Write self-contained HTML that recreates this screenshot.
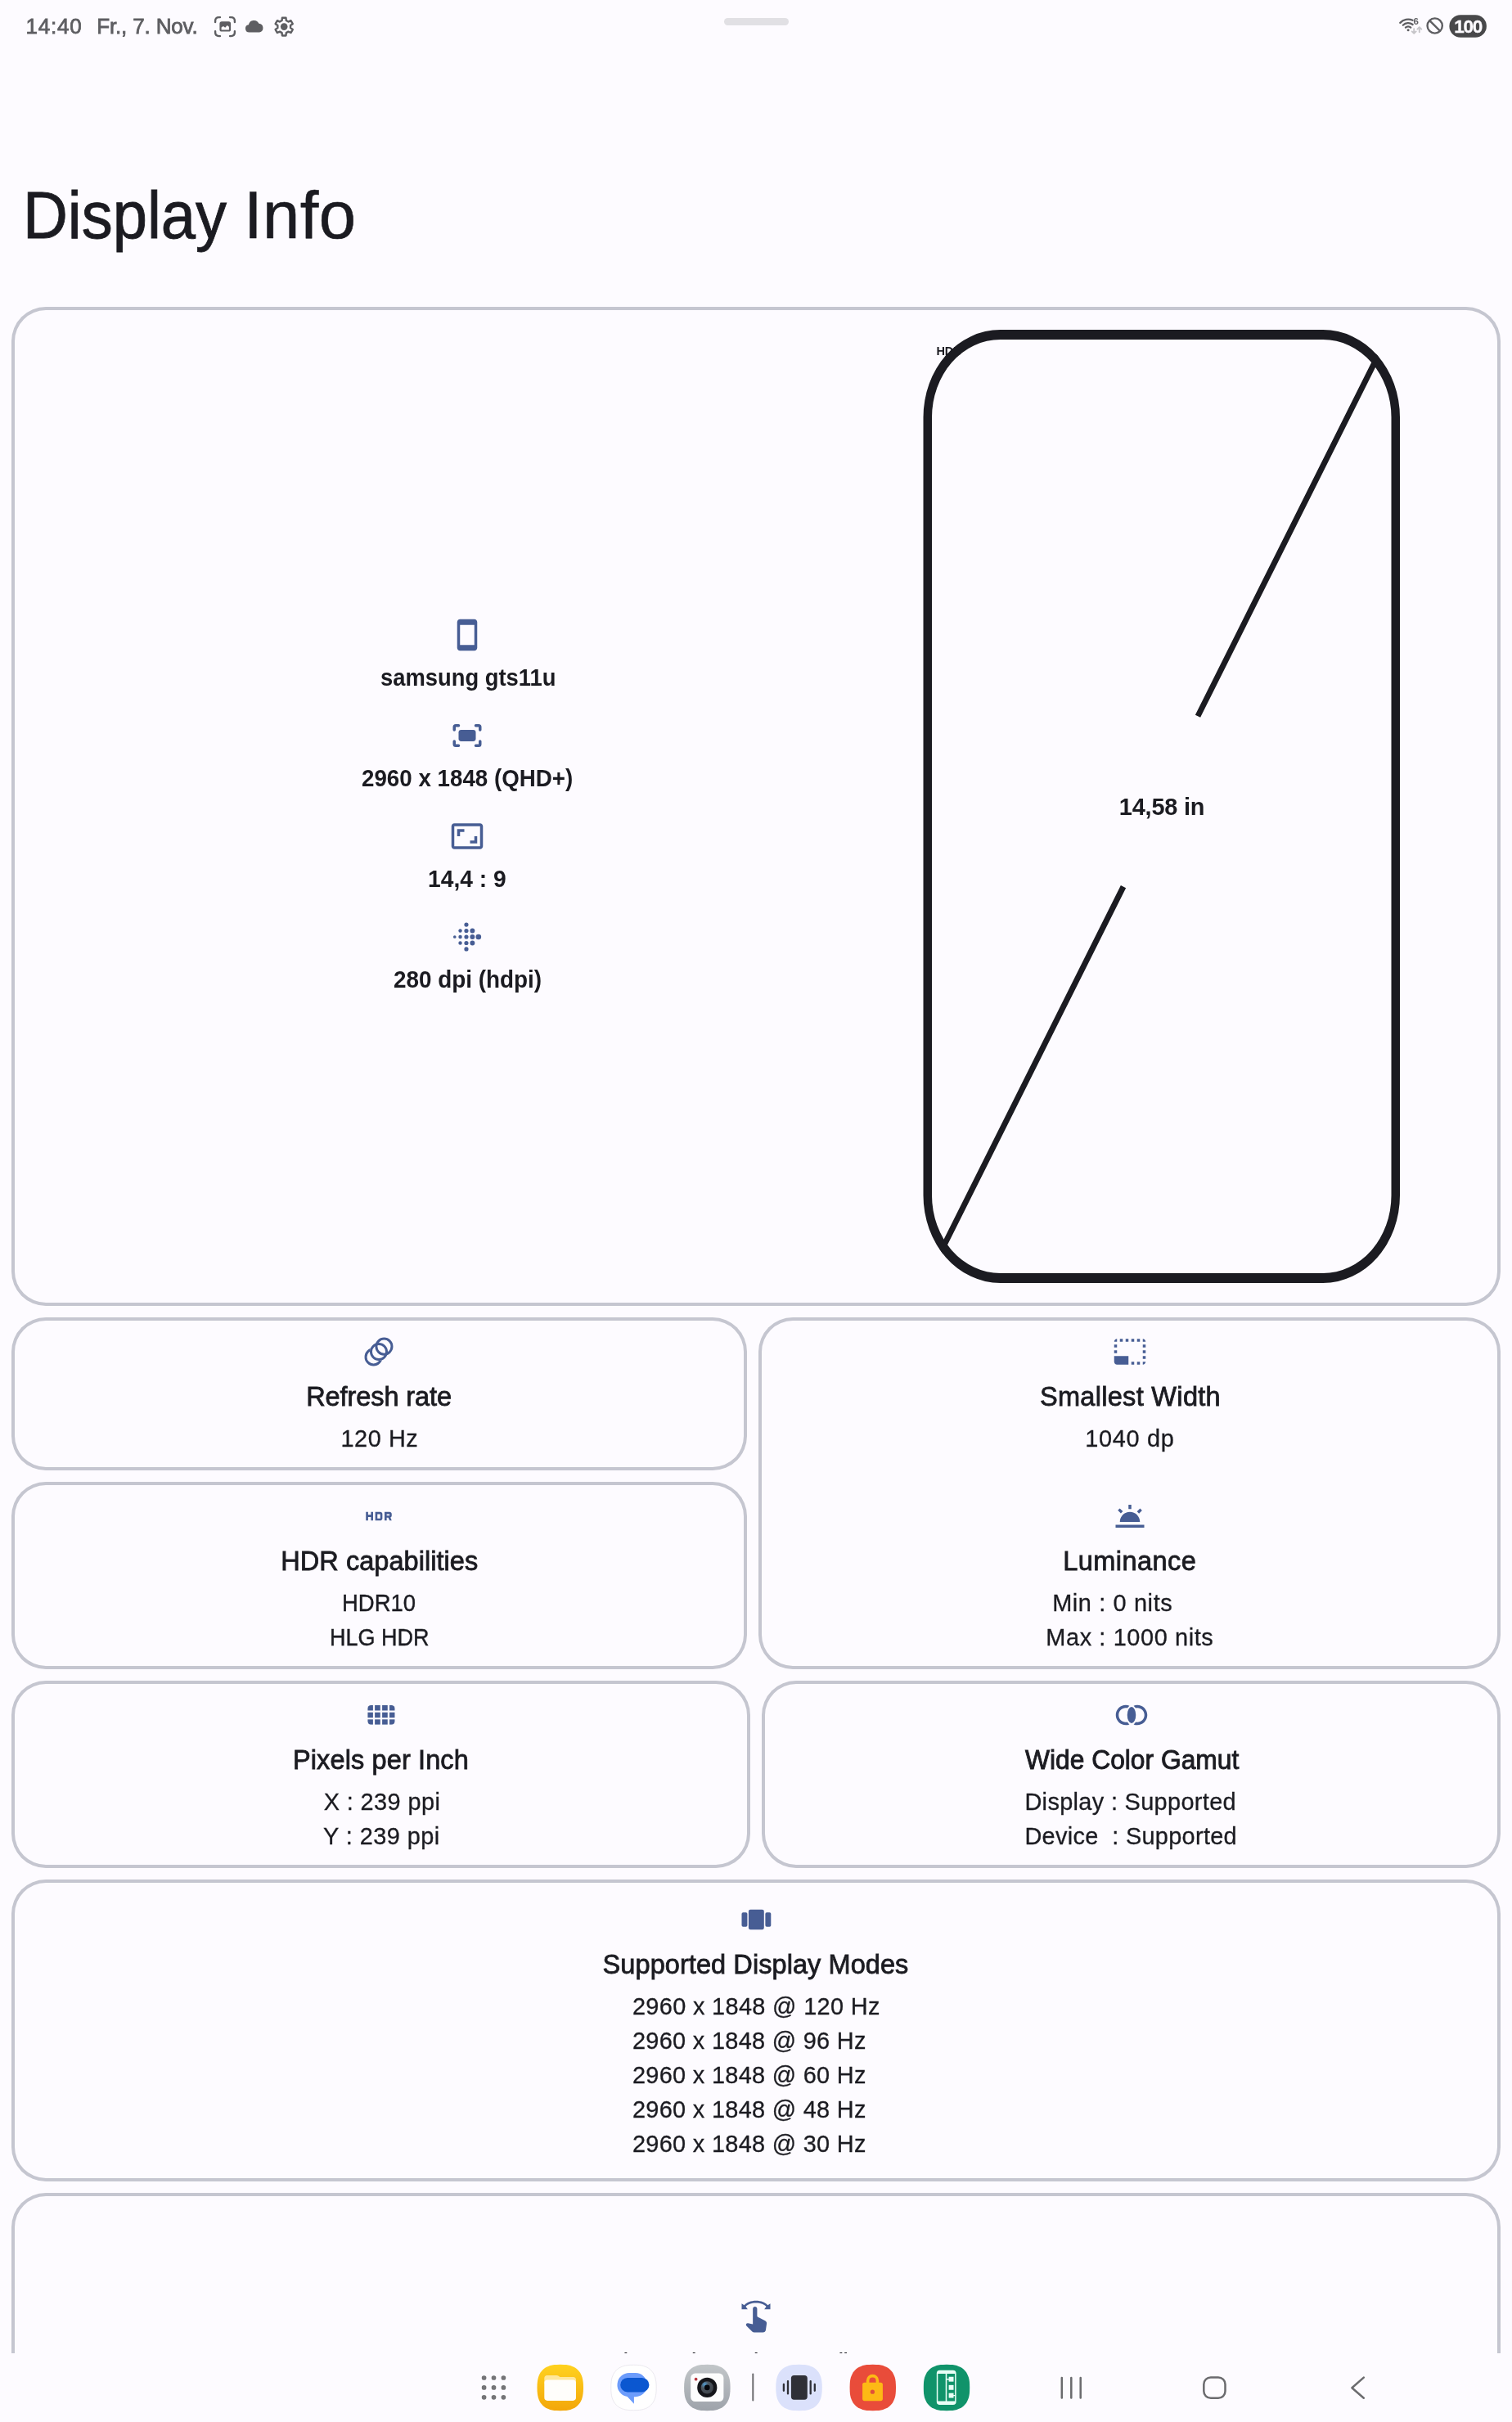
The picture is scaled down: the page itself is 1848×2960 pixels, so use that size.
<!DOCTYPE html>
<html lang="de"><head><meta charset="utf-8"><title>Display Info</title>
<style>html,body{margin:0;padding:0}
body{width:1848px;height:2960px;position:relative;overflow:hidden;background:#fdfbff;color:#1b1b21;font-family:"Liberation Sans",sans-serif}
.t{position:absolute;white-space:pre;margin:0}
.card{position:absolute;box-sizing:border-box;border-radius:42px;background:#fdfbff;box-shadow:inset 0 0 0 4px #c5c6d0}
.ic{position:absolute;display:block;overflow:visible}
.abs{position:absolute}
#root{position:absolute;left:0;top:0;width:1848px;height:2960px;overflow:hidden;will-change:transform}
#content{position:absolute;left:0;top:0;width:1848px;height:2876px;overflow:hidden}
#taskbar{position:absolute;left:0;top:2876px;width:1848px;height:84px;background:#fdfbff}
</style></head><body>
<div id="root">
<main id="content">
<div class="abs" style="left:884.5px;top:21.8px;width:79px;height:9.2px;border-radius:5px;background:#e1e0e4"></div>
<div class="card" style="left:14px;top:375px;width:1820px;height:1221px;"></div>
<div class="card" style="left:14px;top:1610px;width:899px;height:187px;"></div>
<div class="card" style="left:14px;top:1811px;width:899px;height:229px;"></div>
<div class="card" style="left:927px;top:1610px;width:907px;height:430px;"></div>
<div class="card" style="left:14px;top:2054px;width:903px;height:229px;"></div>
<div class="card" style="left:931px;top:2054px;width:903px;height:229px;"></div>
<div class="card" style="left:14px;top:2297px;width:1820px;height:369px;"></div>
<div class="card" style="left:14px;top:2680px;width:1820px;height:420px;"></div>
<div class="t" style="left:1144.4px;top:422px;font-size:14.5px;line-height:14.5px;font-weight:700">HDR</div>
<svg class="abs" id="screen" style="left:1120px;top:395px" width="600" height="1182" viewBox="1120 395 600 1182"><defs><clipPath id="scr"><path d="M1222.5 403H1617A94 107 0 0 1 1711 510V1461A94 107 0 0 1 1617 1568H1222.5A94 107 0 0 1 1128.5 1461V510A94 107 0 0 1 1222.5 403Z"/></clipPath></defs><path d="M1222.5 415H1617A83.5 95 0 0 1 1700.5 510V1461A83.5 95 0 0 1 1617 1556H1222.5A83.5 95 0 0 1 1139 1461V510A83.5 95 0 0 1 1222.5 415Z" fill="#fdfbff"/><g clip-path="url(#scr)"><path d="M1133 1563.600L1373 1083.600M1464 875.200L1704 395.200" stroke="#1b1b21" stroke-width="7" fill="none"/></g><path d="M1222.5 403H1617A94 107 0 0 1 1711 510V1461A94 107 0 0 1 1617 1568H1222.5A94 107 0 0 1 1128.5 1461V510A94 107 0 0 1 1222.5 403ZM1222.5 415H1617A83.5 95 0 0 1 1700.5 510V1461A83.5 95 0 0 1 1617 1556H1222.5A83.5 95 0 0 1 1139 1461V510A83.5 95 0 0 1 1222.5 415Z" fill="#1b1b21" fill-rule="evenodd"/></svg>
<svg class="ic" style="left:550px;top:754.75px" width="42" height="42" viewBox="0 0 24 24" fill="#475d94"><path d="M17 1.01L7 1c-1.1 0-2 .9-2 2v18c0 1.1.9 2 2 2h10c1.1 0 2-.9 2-2V3c0-1.1-.9-1.99-2-1.99zM17 19H7V5h10v14z"/></svg>
<svg class="ic" style="left:550px;top:878px" width="42" height="42" viewBox="0 0 24 24" fill="#475d94"><path d="M3 8V6q0-1 1-1h2M18 5h2q1 0 1 1v2M3 16v2q0 1 1 1h2M21 16v2q0 1-1 1h-2" fill="none" stroke="#475d94" stroke-width="2" stroke-linecap="round"/><rect x="6" y="8" width="12" height="8" rx="1.800"/></svg>
<svg class="ic" style="left:550px;top:1001.1px" width="42" height="42" viewBox="0 0 24 24" fill="#475d94"><path d="M19 12h-2v3h-3v2h5v-5zM7 9h3V7H5v5h2V9zm14-6H3c-1.1 0-2 .9-2 2v14c0 1.1.9 2 2 2h18c1.1 0 2-.9 2-2V5c0-1.1-.9-2-2-2zm0 16.01H3V4.99h18v14.02z"/></svg>
<svg class="ic" style="left:550px;top:1123.9px" width="42" height="42" viewBox="0 0 24 24" fill="#475d94"><circle cx="19.89" cy="12" r="1.89"/><circle cx="15.65" cy="12" r="1.68"/><circle cx="15.65" cy="7.74" r="1.68"/><circle cx="15.65" cy="16.25" r="1.68"/><circle cx="11.41" cy="12" r="1.47"/><circle cx="11.41" cy="7.74" r="1.47"/><circle cx="11.41" cy="16.26" r="1.47"/><circle cx="11.41" cy="20.53" r="1.47"/><circle cx="11.41" cy="3.47" r="1.47"/><circle cx="7.16" cy="12" r="1.26"/><circle cx="7.16" cy="16.25" r="1.26"/><circle cx="7.16" cy="7.75" r="1.26"/><circle cx="3.29" cy="12" r="1.05"/></svg>
<svg class="ic" style="left:442.3px;top:1631px" width="42" height="42" viewBox="0 0 24 24" fill="#475d94"><defs><mask id="anB" maskUnits="userSpaceOnUse" x="0" y="0" width="24" height="24"><rect width="24" height="24" fill="#fff"/><circle cx="12" cy="12" r="6.300" fill="#000"/></mask></defs><g fill="none" stroke="#475d94" stroke-width="1.700"><circle cx="15.680" cy="8.350" r="5.450"/><circle cx="12" cy="12" r="5.450"/><circle cx="8.320" cy="15.650" r="5.450" mask="url(#anB)"/></g></svg>
<svg class="ic" style="left:442.1px;top:1832.2px" width="42" height="42" viewBox="0 0 24 24" fill="#475d94"><path d="M21 11.5v-1c0-.8-.7-1.5-1.5-1.5H16v6h1.5v-2h1.1l.9 2H21l-.9-2.1c.5-.3.9-.8.9-1.4zm-1.5 0h-2v-1h2v1zm-13-.5h-2V9H3v6h1.5v-2.5h2V15H8V9H6.500v2zM13 9H9.5v6H13c.8 0 1.5-.7 1.5-1.5v-3c0-.8-.7-1.5-1.5-1.5zm0 4.500h-2v-3h2v3z"/></svg>
<svg class="ic" style="left:1359.6px;top:1631px" width="42" height="42" viewBox="0 0 24 24" fill="#475d94"><path d="M23 15h-2v2h2v-2zm0-4h-2v2h2v-2zm0 8h-2v2c1 0 2-1 2-2zM15 3h-2v2h2V3zm8 4h-2v2h2V7zm-2-4v2h2c0-1-1-2-2-2zM3 21h8v-6H1v4c0 1.1.9 2 2 2zM3 7H1v2h2V7zm12 12h-2v2h2v-2zm4-16h-2v2h2V3zm0 16h-2v2h2v-2zM3 3C2 3 1 4 1 5h2V3zm0 8H1v2h2v-2zm8-8H9v2h2V3zM7 3H5v2h2V3z"/></svg>
<svg class="ic" style="left:1359.8px;top:1832px" width="42" height="42" viewBox="0 0 24 24" fill="#475d94"><path d="M16.955 8.662l2.12-2.122 1.416 1.414-2.121 2.122zM2 18h20v2H2zM11 4h2v3h-2zM3.543 7.925L4.956 6.51l2.122 2.12-1.412 1.415zM5 16h14c0-3.87-3.13-7-7-7s-7 3.13-7 7z"/></svg>
<svg class="ic" style="left:444.05px;top:2075px" width="42" height="42" viewBox="0 0 24 24" fill="#475d94"><defs><clipPath id="vc"><rect x="3" y="5.150" width="19.100" height="13.600" rx="2.400"/></clipPath></defs><g clip-path="url(#vc)"><rect x="3" y="5.15" width="3.800" height="3.700"/><rect x="8.07" y="5.15" width="3.800" height="3.700"/><rect x="13.2" y="5.15" width="3.800" height="3.700"/><rect x="18.3" y="5.15" width="3.800" height="3.700"/><rect x="3" y="10.15" width="3.800" height="3.700"/><rect x="8.07" y="10.15" width="3.800" height="3.700"/><rect x="13.2" y="10.15" width="3.800" height="3.700"/><rect x="18.3" y="10.15" width="3.800" height="3.700"/><rect x="3" y="15.05" width="3.800" height="3.700"/><rect x="8.07" y="15.05" width="3.800" height="3.700"/><rect x="13.2" y="15.05" width="3.800" height="3.700"/><rect x="18.3" y="15.05" width="3.800" height="3.700"/></g></svg>
<svg class="ic" style="left:1362px;top:2075px" width="42" height="42" viewBox="0 0 24 24" fill="#475d94"><ellipse cx="12" cy="12" rx="3" ry="5.74"/><path d="M9.04 16.87C8.71 16.95 8.36 17 8 17c-2.760 0-5-2.240-5-5s2.240-5 5-5c.36 0 .71.050 1.040.130.390-.560.880-1.120 1.490-1.630C9.750 5.190 8.900 5 8 5c-3.860 0-7 3.140-7 7s3.140 7 7 7c.9 0 1.750-.190 2.530-.5-.61-.51-1.100-1.070-1.490-1.630z"/><path d="M16 5c-.9 0-1.750.190-2.530.5.610.510 1.100 1.070 1.490 1.630.33-.08.680-.130 1.040-.130 2.760 0 5 2.240 5 5s-2.240 5-5 5c-.360 0-.710-.050-1.040-.130-.390.560-.880 1.120-1.490 1.630.78.310 1.630.5 2.530.5 3.860 0 7-3.140 7-7s-3.140-7-7-7z"/></svg>
<svg class="ic" style="left:903.3px;top:2325px" width="42" height="42" viewBox="0 0 24 24" fill="#475d94"><rect x="2" y="7" width="3.950" height="10" rx="1"/><rect x="6.800" y="5.050" width="10.800" height="13.900" rx="1.300"/><rect x="18.500" y="7" width="3.950" height="10" rx="1"/></svg>
<svg class="ic" style="left:903px;top:2809.6px" width="42" height="42" viewBox="0 0 24 24" fill="#475d94"><path d="M20.200 4.100C18.600 2.250 15.550 1.050 12 1.050S5.400 2.250 3.800 4.100L2 3v4h4.200L4.850 5.150c1.200-1.500 3.850-2.600 7.150-2.600s5.950 1.100 7.150 2.600L17.800 7H22V3l-1.800 1.100z"/><path transform="translate(-0.2 -0.8)" d="M13 12.500v-5c0-.83-.67-1.500-1.500-1.500S10 6.670 10 7.500v10.740l-3.440-.72c-.37-.08-.76.040-1.030.31-.43.440-.43 1.140 0 1.580l4.010 4.010c.38.370.89.580 1.420.58h6.100c1 0 1.840-.73 1.980-1.720l.63-4.470c.12-.85-.32-1.690-1.090-2.070l-4.420-2.200c-.21-.090-.44-.140-.66-.140z"/></svg>
<div class="t" style="left:31.52px;top:19.00px;font-size:26.0px;line-height:26.0px;letter-spacing:0.754px;color:#5e5e62;-webkit-text-stroke:0.8px #5e5e62;">14:40</div>
<div class="t" style="left:118.17px;top:19.00px;font-size:26.0px;line-height:26.0px;letter-spacing:-0.147px;color:#5e5e62;-webkit-text-stroke:0.8px #5e5e62;">Fr., 7. Nov.</div>
<div class="t" style="left:28.07px;top:222.00px;font-size:81.4px;line-height:81.4px;transform:scaleX(0.9333);transform-origin:0 0;-webkit-text-stroke:0.8999999999999999px #1b1b21;">Display</div>
<div class="t" style="left:297.99px;top:222.00px;font-size:81.4px;line-height:81.4px;letter-spacing:0.422px;-webkit-text-stroke:0.6px #1b1b21;">Info</div>
<div class="t" style="left:464.64px;top:814.00px;font-size:28.9px;line-height:28.9px;transform:scaleX(0.9469);transform-origin:0 0;font-weight:700;">samsung gts11u</div>
<div class="t" style="left:441.64px;top:937.00px;font-size:28.9px;line-height:28.9px;transform:scaleX(0.9600);transform-origin:0 0;font-weight:700;">2960 x 1848 (QHD+)</div>
<div class="t" style="left:523.02px;top:1060.00px;font-size:28.9px;line-height:28.9px;transform:scaleX(0.9770);transform-origin:0 0;font-weight:700;">14,4 : 9</div>
<div class="t" style="left:481.13px;top:1183.00px;font-size:28.9px;line-height:28.9px;transform:scaleX(0.9646);transform-origin:0 0;font-weight:700;">280 dpi (hdpi)</div>
<div class="t" style="left:1367.78px;top:972.00px;font-size:28.9px;line-height:28.9px;letter-spacing:-0.184px;font-weight:700;">14,58 in</div>
<div class="t" style="left:374.23px;top:1691.00px;font-size:32.5px;line-height:32.5px;letter-spacing:-0.094px;-webkit-text-stroke:0.8px #1b1b21;">Refresh rate</div>
<div class="t" style="left:416.50px;top:1744.00px;font-size:28.9px;line-height:28.9px;letter-spacing:0.539px;-webkit-text-stroke:0.3px #1b1b21;">120 Hz</div>
<div class="t" style="left:343.33px;top:1892.00px;font-size:32.5px;line-height:32.5px;letter-spacing:0.040px;-webkit-text-stroke:0.8px #1b1b21;">HDR capabilities</div>
<div class="t" style="left:417.75px;top:1945.00px;font-size:28.9px;line-height:28.9px;transform:scaleX(0.9503);transform-origin:0 0;-webkit-text-stroke:0.4px #1b1b21;">HDR10</div>
<div class="t" style="left:402.59px;top:1987.00px;font-size:28.9px;line-height:28.9px;transform:scaleX(0.9341);transform-origin:0 0;-webkit-text-stroke:0.4px #1b1b21;">HLG HDR</div>
<div class="t" style="left:1270.92px;top:1691.00px;font-size:32.5px;line-height:32.5px;letter-spacing:0.312px;-webkit-text-stroke:0.8px #1b1b21;">Smallest Width</div>
<div class="t" style="left:1326.30px;top:1744.00px;font-size:28.9px;line-height:28.9px;letter-spacing:0.663px;-webkit-text-stroke:0.3px #1b1b21;">1040 dp</div>
<div class="t" style="left:1299.33px;top:1892.00px;font-size:32.5px;line-height:32.5px;letter-spacing:0.439px;-webkit-text-stroke:0.8px #1b1b21;">Luminance</div>
<div class="t" style="left:1286.13px;top:1945.00px;font-size:28.9px;line-height:28.9px;letter-spacing:0.630px;-webkit-text-stroke:0.3px #1b1b21;">Min : 0 nits</div>
<div class="t" style="left:1278.33px;top:1987.00px;font-size:28.9px;line-height:28.9px;letter-spacing:0.607px;-webkit-text-stroke:0.3px #1b1b21;">Max : 1000 nits</div>
<div class="t" style="left:357.93px;top:2135.00px;font-size:32.5px;line-height:32.5px;letter-spacing:0.123px;-webkit-text-stroke:0.8px #1b1b21;">Pixels per Inch</div>
<div class="t" style="left:395.65px;top:2188.00px;font-size:28.9px;line-height:28.9px;letter-spacing:0.406px;-webkit-text-stroke:0.3px #1b1b21;">X : 239 ppi</div>
<div class="t" style="left:395.06px;top:2230.00px;font-size:28.9px;line-height:28.9px;letter-spacing:0.446px;-webkit-text-stroke:0.3px #1b1b21;">Y : 239 ppi</div>
<div class="t" style="left:1252.66px;top:2135.00px;font-size:32.5px;line-height:32.5px;transform:scaleX(0.9774);transform-origin:0 0;-webkit-text-stroke:0.9px #1b1b21;">Wide Color Gamut</div>
<div class="t" style="left:1252.43px;top:2188.00px;font-size:28.9px;line-height:28.9px;letter-spacing:0.338px;-webkit-text-stroke:0.3px #1b1b21;">Display : Supported</div>
<div class="t" style="left:1252.43px;top:2230.00px;font-size:28.9px;line-height:28.9px;letter-spacing:0.305px;-webkit-text-stroke:0.3px #1b1b21;">Device &nbsp;: Supported</div>
<div class="t" style="left:736.62px;top:2385.00px;font-size:32.5px;line-height:32.5px;letter-spacing:0.072px;-webkit-text-stroke:0.8px #1b1b21;">Supported Display Modes</div>
<div class="t" style="left:772.95px;top:2438.00px;font-size:28.9px;line-height:28.9px;letter-spacing:0.343px;-webkit-text-stroke:0.3px #1b1b21;">2960 x 1848 @ 120 Hz</div>
<div class="t" style="left:772.95px;top:2480.00px;font-size:28.9px;line-height:28.9px;letter-spacing:0.310px;-webkit-text-stroke:0.3px #1b1b21;">2960 x 1848 @ 96 Hz</div>
<div class="t" style="left:772.95px;top:2522.00px;font-size:28.9px;line-height:28.9px;letter-spacing:0.310px;-webkit-text-stroke:0.3px #1b1b21;">2960 x 1848 @ 60 Hz</div>
<div class="t" style="left:772.95px;top:2564.00px;font-size:28.9px;line-height:28.9px;letter-spacing:0.310px;-webkit-text-stroke:0.3px #1b1b21;">2960 x 1848 @ 48 Hz</div>
<div class="t" style="left:772.95px;top:2606.00px;font-size:28.9px;line-height:28.9px;letter-spacing:0.310px;-webkit-text-stroke:0.3px #1b1b21;">2960 x 1848 @ 30 Hz</div>
<div class="t" style="left:718.33px;top:2872.00px;font-size:32.5px;line-height:32.5px;letter-spacing:-1.384px;">Estimated Touch Sampling Rate</div>
</main>
<svg class="abs" style="left:0;top:0" width="1848" height="64" viewBox="0 0 1848 64" fill="none"><g stroke="#5e5e62" stroke-width="2.4" stroke-linecap="round" fill="none"><path d="M263.1 27V25.6Q263.1 21.1 267.6 21.1H269"/><path d="M281 21.1H282.4Q286.9 21.1 286.9 25.6V27"/><path d="M263.1 38.2V39.6Q263.1 44.1 267.6 44.1H269"/><path d="M281 44.1H282.4Q286.9 44.1 286.9 39.6V38.2"/></g><rect x="268.4" y="26.3" width="13.7" height="12.3" rx="2.6" fill="#5e5e62"/><path d="M270.6 36.6V33.600l2.300-1.500 2.300 1.600 2.500-2.700 2.200 1.700v3.900z" fill="#fdfbff"/><path d="M304.600 39.400a4.600 4.600 0 0 1-.700-9.150 6.600 6.600 0 0 1 12.500-1.450 5.350 5.350 0 0 1 .700 10.600z" fill="#5e5e62"/><path d="M344.60 25.04L344.89 21.74L349.51 21.74L349.80 25.04L352.45 26.56L355.45 25.17L357.76 29.17L355.05 31.07L355.05 34.13L357.76 36.03L355.45 40.03L352.45 38.64L349.80 40.16L349.51 43.46L344.89 43.46L344.60 40.16L341.95 38.64L338.95 40.03L336.64 36.03L339.35 34.13L339.35 31.07L336.64 29.17L338.95 25.17L341.95 26.56Z" stroke="#5e5e62" stroke-width="2.4" stroke-linejoin="round"/><circle cx="347.2" cy="32.6" r="4.3" fill="#5e5e62"/><g stroke="#5e5e62" stroke-width="2.3" stroke-linecap="round" fill="none"><path d="M1711.30 27.86A13.4 13.4 0 0 1 1726.55 24.76"/><path d="M1714.81 30.71A8.9 8.9 0 0 1 1726.58 29.99"/><path d="M1717.96 33.64A4.6 4.6 0 0 1 1724.24 33.64"/></g><circle cx="1721.1" cy="36.7" r="1.5" fill="#5e5e62"/><text x="1727.400" y="29.800" font-family="Liberation Sans, sans-serif" font-weight="700" font-size="11.500" fill="#5e5e62">6</text><g stroke="#c6c5c9" stroke-width="1.9" stroke-linecap="round" stroke-linejoin="round" fill="none"><path d="M1728.200 35.200V40.700M1725.700 38.400L1728.200 40.900 1730.700 38.400"/><path d="M1734.800 39.200V33.500M1732.300 35.700L1734.800 33.200 1737.300 35.700"/></g><circle cx="1753.700" cy="31.500" r="9.150" stroke="#5e5e62" stroke-width="2.400"/><path d="M1747.300 25.100L1760.100 37.900" stroke="#5e5e62" stroke-width="2.400"/><rect x="1771.400" y="18.200" width="45.500" height="27.500" rx="13.750" fill="#48484a"/><text x="1794.100" y="39.700" text-anchor="middle" font-family="Liberation Sans, sans-serif" font-weight="700" font-size="22.500" letter-spacing="-1.300" fill="#fdfbff" stroke="#fdfbff" stroke-width="0.300">100</text></svg>
<nav id="taskbar"><svg class="abs" style="left:0;top:0" width="1848" height="84" viewBox="0 2876 1848 84" fill="none"><defs><linearGradient id="gy" x1="0" y1="0" x2="0" y2="1"><stop offset="0" stop-color="#ffd21f"/><stop offset="1" stop-color="#f3a70a"/></linearGradient><linearGradient id="gc" x1="0" y1="0" x2="0" y2="1"><stop offset="0" stop-color="#c2c6c9"/><stop offset="1" stop-color="#9ea3aa"/></linearGradient><radialGradient id="gl" cx="0.3" cy="0.25" r="0.9"><stop offset="0" stop-color="#4f9bd0"/><stop offset="0.35" stop-color="#4d565e"/><stop offset="1" stop-color="#3d4249"/></radialGradient></defs><circle cx="591.6" cy="2906" r="2.850" fill="#747477"/><circle cx="603.5" cy="2906" r="2.850" fill="#747477"/><circle cx="615.4" cy="2906" r="2.850" fill="#747477"/><circle cx="591.6" cy="2917.9" r="2.850" fill="#747477"/><circle cx="603.5" cy="2917.9" r="2.850" fill="#747477"/><circle cx="615.4" cy="2917.9" r="2.850" fill="#747477"/><circle cx="591.6" cy="2929.8" r="2.850" fill="#747477"/><circle cx="603.5" cy="2929.8" r="2.850" fill="#747477"/><circle cx="615.4" cy="2929.8" r="2.850" fill="#747477"/><path d="M713.0 2918.0L712.9 2922.3L712.6 2925.3L712.2 2928.0L711.6 2930.4L710.9 2932.5L710.0 2934.5L708.9 2936.4L707.7 2938.1L706.4 2939.6L704.8 2941.0L703.1 2942.2L701.3 2943.2L699.3 2944.1L697.1 2944.9L694.7 2945.5L692.1 2945.9L689.1 2946.1L684.8 2946.2L680.4 2946.1L677.4 2945.9L674.8 2945.5L672.4 2944.9L670.2 2944.1L668.2 2943.2L666.4 2942.2L664.7 2941.0L663.1 2939.6L661.8 2938.1L660.6 2936.4L659.5 2934.5L658.6 2932.5L657.9 2930.4L657.3 2928.0L656.9 2925.3L656.6 2922.3L656.5 2918.0L656.6 2913.7L656.9 2910.7L657.3 2908.0L657.9 2905.6L658.6 2903.5L659.5 2901.5L660.6 2899.6L661.8 2897.9L663.1 2896.4L664.7 2895.0L666.4 2893.8L668.2 2892.8L670.2 2891.9L672.4 2891.1L674.8 2890.5L677.4 2890.1L680.4 2889.9L684.7 2889.8L689.1 2889.9L692.1 2890.1L694.7 2890.5L697.1 2891.1L699.3 2891.9L701.3 2892.8L703.1 2893.8L704.8 2895.0L706.4 2896.4L707.7 2897.9L708.9 2899.6L710.0 2901.5L710.9 2903.5L711.6 2905.6L712.2 2908.0L712.6 2910.7L712.9 2913.7Z" fill="url(#gy)"/><path d="M665.300 2906.400q0-3.500 3.500-3.500h11.500q1.400 0 2.400.9l1.600 1.200h16.200q3.500 0 3.500 3.500v4H665.300z" fill="#ffe79a"/><rect x="665.300" y="2908.600" width="38.700" height="25.300" rx="3.800" fill="#fffefb"/><path d="M802.2 2918.0L802.1 2922.2L801.8 2925.2L801.4 2927.8L800.9 2930.1L800.1 2932.3L799.2 2934.3L798.2 2936.1L797.0 2937.7L795.7 2939.2L794.2 2940.6L792.5 2941.8L790.7 2942.8L788.7 2943.7L786.6 2944.4L784.2 2945.0L781.7 2945.4L778.7 2945.6L774.5 2945.7L770.2 2945.6L767.2 2945.4L764.7 2945.0L762.3 2944.4L760.2 2943.7L758.2 2942.8L756.4 2941.8L754.7 2940.6L753.2 2939.2L751.9 2937.7L750.7 2936.1L749.7 2934.3L748.8 2932.3L748.0 2930.1L747.5 2927.8L747.1 2925.2L746.8 2922.2L746.8 2918.0L746.8 2913.8L747.1 2910.8L747.5 2908.2L748.0 2905.9L748.8 2903.7L749.7 2901.7L750.7 2899.9L751.9 2898.3L753.2 2896.8L754.7 2895.4L756.4 2894.2L758.2 2893.2L760.2 2892.3L762.3 2891.6L764.7 2891.0L767.2 2890.6L770.2 2890.4L774.4 2890.3L778.7 2890.4L781.7 2890.6L784.2 2891.0L786.6 2891.6L788.7 2892.3L790.7 2893.2L792.5 2894.2L794.2 2895.4L795.7 2896.8L797.0 2898.3L798.2 2899.9L799.2 2901.7L800.1 2903.7L800.9 2905.9L801.4 2908.2L801.8 2910.8L802.1 2913.8Z" fill="#ffffff" stroke="#ebe9ef" stroke-width="1"/><path d="M769.700 2900.100h7.100a14 14 0 0 1 14 14v1.100a14 14 0 0 1-14 14h-1.900v8.500l-8.200-8.700a14.550 14.550 0 0 1 3-28.900z" fill="#6c9cfb"/><rect x="758.200" y="2905.900" width="35.200" height="17.500" rx="8.750" fill="#0b57d0"/><path d="M892.6 2918.0L892.5 2922.3L892.2 2925.3L891.8 2928.0L891.2 2930.4L890.5 2932.5L889.6 2934.5L888.5 2936.4L887.3 2938.1L886.0 2939.6L884.4 2941.0L882.7 2942.2L880.9 2943.2L878.9 2944.1L876.7 2944.9L874.3 2945.5L871.7 2945.9L868.7 2946.1L864.4 2946.2L860.0 2946.1L857.0 2945.9L854.4 2945.5L852.0 2944.9L849.8 2944.1L847.8 2943.2L846.0 2942.2L844.3 2941.0L842.7 2939.6L841.4 2938.1L840.2 2936.4L839.1 2934.5L838.2 2932.5L837.5 2930.4L836.9 2928.0L836.5 2925.3L836.2 2922.3L836.1 2918.0L836.2 2913.7L836.5 2910.7L836.9 2908.0L837.5 2905.6L838.2 2903.5L839.1 2901.5L840.2 2899.6L841.4 2897.9L842.7 2896.4L844.3 2895.0L846.0 2893.8L847.8 2892.8L849.8 2891.9L852.0 2891.1L854.4 2890.5L857.0 2890.1L860.0 2889.9L864.3 2889.8L868.7 2889.9L871.7 2890.1L874.3 2890.5L876.7 2891.1L878.9 2891.9L880.9 2892.8L882.7 2893.8L884.4 2895.0L886.0 2896.4L887.3 2897.9L888.5 2899.6L889.6 2901.5L890.5 2903.5L891.2 2905.6L891.8 2908.0L892.2 2910.7L892.5 2913.7Z" fill="url(#gc)"/><rect x="844.200" y="2900.600" width="40.200" height="34.400" rx="5.500" fill="#fdfdfd"/><circle cx="864.300" cy="2917.900" r="12.100" fill="#15161a"/><circle cx="864.300" cy="2917.900" r="7.600" fill="url(#gl)"/><circle cx="864.300" cy="2917.900" r="3.300" fill="#05060a"/><circle cx="850.600" cy="2907.700" r="1.900" fill="#b8363f"/><rect x="919.300" y="2900.400" width="2" height="34" rx="1" fill="#6b6b6e"/><path d="M1004.8 2918.0L1004.7 2922.3L1004.4 2925.3L1004.0 2928.0L1003.4 2930.4L1002.7 2932.5L1001.8 2934.5L1000.7 2936.4L999.5 2938.1L998.2 2939.6L996.6 2941.0L994.9 2942.2L993.1 2943.2L991.1 2944.1L988.9 2944.9L986.5 2945.5L983.9 2945.9L980.9 2946.1L976.6 2946.2L972.2 2946.1L969.2 2945.9L966.6 2945.5L964.2 2944.9L962.0 2944.1L960.0 2943.2L958.2 2942.2L956.5 2941.0L954.9 2939.6L953.6 2938.1L952.4 2936.4L951.3 2934.5L950.4 2932.5L949.7 2930.4L949.1 2928.0L948.7 2925.3L948.4 2922.3L948.3 2918.0L948.4 2913.7L948.7 2910.7L949.1 2908.0L949.7 2905.6L950.4 2903.5L951.3 2901.5L952.4 2899.6L953.6 2897.9L954.9 2896.4L956.5 2895.0L958.2 2893.8L960.0 2892.8L962.0 2891.9L964.2 2891.1L966.6 2890.5L969.2 2890.1L972.2 2889.9L976.5 2889.8L980.9 2889.9L983.9 2890.1L986.5 2890.5L988.9 2891.1L991.1 2891.9L993.1 2892.8L994.9 2893.8L996.6 2895.0L998.2 2896.4L999.5 2897.9L1000.7 2899.6L1001.8 2901.5L1002.7 2903.5L1003.4 2905.6L1004.0 2908.0L1004.4 2910.7L1004.7 2913.7Z" fill="#dbe1fb"/><rect x="966.900" y="2903" width="19.900" height="29.700" rx="3.600" fill="#2f3037"/><g stroke="#2f3037" stroke-width="2.300" stroke-linecap="round"><path d="M963 2910.200V2925.400M990.700 2910.200V2925.400M957.900 2914V2921.800M995.800 2914V2921.800"/></g><path d="M1095.0 2918.0L1094.9 2922.3L1094.7 2925.3L1094.3 2928.0L1093.7 2930.4L1092.9 2932.5L1092.0 2934.5L1091.0 2936.4L1089.8 2938.1L1088.4 2939.6L1086.9 2941.0L1085.2 2942.2L1083.3 2943.2L1081.3 2944.1L1079.2 2944.9L1076.8 2945.5L1074.1 2945.9L1071.1 2946.1L1066.8 2946.2L1062.5 2946.1L1059.5 2945.9L1056.8 2945.5L1054.4 2944.9L1052.3 2944.1L1050.3 2943.2L1048.4 2942.2L1046.7 2941.0L1045.2 2939.6L1043.8 2938.1L1042.6 2936.4L1041.6 2934.5L1040.7 2932.5L1039.9 2930.4L1039.3 2928.0L1038.9 2925.3L1038.7 2922.3L1038.6 2918.0L1038.7 2913.7L1038.9 2910.7L1039.3 2908.0L1039.9 2905.6L1040.7 2903.5L1041.6 2901.5L1042.6 2899.6L1043.8 2897.9L1045.2 2896.4L1046.7 2895.0L1048.4 2893.8L1050.3 2892.8L1052.3 2891.9L1054.4 2891.1L1056.8 2890.5L1059.5 2890.1L1062.5 2889.9L1066.8 2889.8L1071.1 2889.9L1074.1 2890.1L1076.8 2890.5L1079.2 2891.1L1081.3 2891.9L1083.3 2892.8L1085.2 2893.8L1086.9 2895.0L1088.4 2896.4L1089.8 2897.9L1091.0 2899.6L1092.0 2901.5L1092.9 2903.5L1093.7 2905.6L1094.3 2908.0L1094.7 2910.7L1094.9 2913.7Z" fill="#e94c3a"/><path d="M1060.600 2913v-3.500a5.900 5.900 0 0 1 11.800 0v3.500" stroke="#fdb915" stroke-width="3.600" fill="none"/><rect x="1054.100" y="2911.700" width="24.800" height="22.500" rx="2.600" fill="#fdb915"/><circle cx="1066.400" cy="2923.200" r="2.600" fill="#e0503a"/><path d="M1185.2 2918.0L1185.1 2922.3L1184.9 2925.3L1184.5 2928.0L1183.9 2930.4L1183.1 2932.5L1182.2 2934.5L1181.2 2936.4L1180.0 2938.1L1178.6 2939.6L1177.1 2941.0L1175.4 2942.2L1173.5 2943.2L1171.5 2944.1L1169.4 2944.9L1167.0 2945.5L1164.3 2945.9L1161.3 2946.1L1157.0 2946.2L1152.7 2946.1L1149.7 2945.9L1147.0 2945.5L1144.6 2944.9L1142.5 2944.1L1140.5 2943.2L1138.6 2942.2L1136.9 2941.0L1135.4 2939.6L1134.0 2938.1L1132.8 2936.4L1131.8 2934.5L1130.9 2932.5L1130.1 2930.4L1129.5 2928.0L1129.1 2925.3L1128.9 2922.3L1128.8 2918.0L1128.9 2913.7L1129.1 2910.7L1129.5 2908.0L1130.1 2905.6L1130.9 2903.5L1131.8 2901.5L1132.8 2899.6L1134.0 2897.9L1135.4 2896.4L1136.9 2895.0L1138.6 2893.8L1140.5 2892.8L1142.5 2891.9L1144.6 2891.1L1147.0 2890.5L1149.7 2890.1L1152.7 2889.9L1157.0 2889.8L1161.3 2889.9L1164.3 2890.1L1167.0 2890.5L1169.4 2891.1L1171.5 2891.9L1173.5 2892.8L1175.4 2893.8L1177.1 2895.0L1178.6 2896.4L1180.0 2897.9L1181.2 2899.6L1182.2 2901.5L1183.1 2903.5L1183.9 2905.6L1184.5 2908.0L1184.9 2910.7L1185.1 2913.7Z" fill="#10936a"/><path fill-rule="evenodd" fill="#e9fff6" d="M1148.600 2896.700h16.200a3.800 3.800 0 0 1 3.800 3.800v34.700a3.800 3.800 0 0 1-3.800 3.800h-16.200a3.800 3.800 0 0 1-3.800-3.800v-34.700a3.800 3.800 0 0 1 3.800-3.800zM1146.300 2901.100v33.400h9.400v-33.400zM1157.300 2901.100v33.400h9.800v-33.400z"/><rect x="1159.600" y="2904.75" width="5.900" height="5.900" fill="#e9fff6"/><rect x="1159.600" y="2914.85" width="5.900" height="5.900" fill="#e9fff6"/><rect x="1159.600" y="2924.65" width="5.900" height="5.900" fill="#e9fff6"/><path d="M1156.500 2907.700H1160M1165 2927.600H1168" stroke="#e9fff6" stroke-width="1.400"/><g stroke="#6b6b6e" stroke-width="2.500" stroke-linecap="round" stroke-linejoin="round"><path d="M1297.800 2906V2930.600M1309.300 2906V2930.600M1320.700 2906V2930.600"/><rect x="1471.300" y="2905.500" width="26.200" height="25.300" rx="8.500"/><path d="M1666.800 2905.600L1652.400 2918.200 1666.800 2930.800"/></g></svg></nav>
</div>
</body></html>
